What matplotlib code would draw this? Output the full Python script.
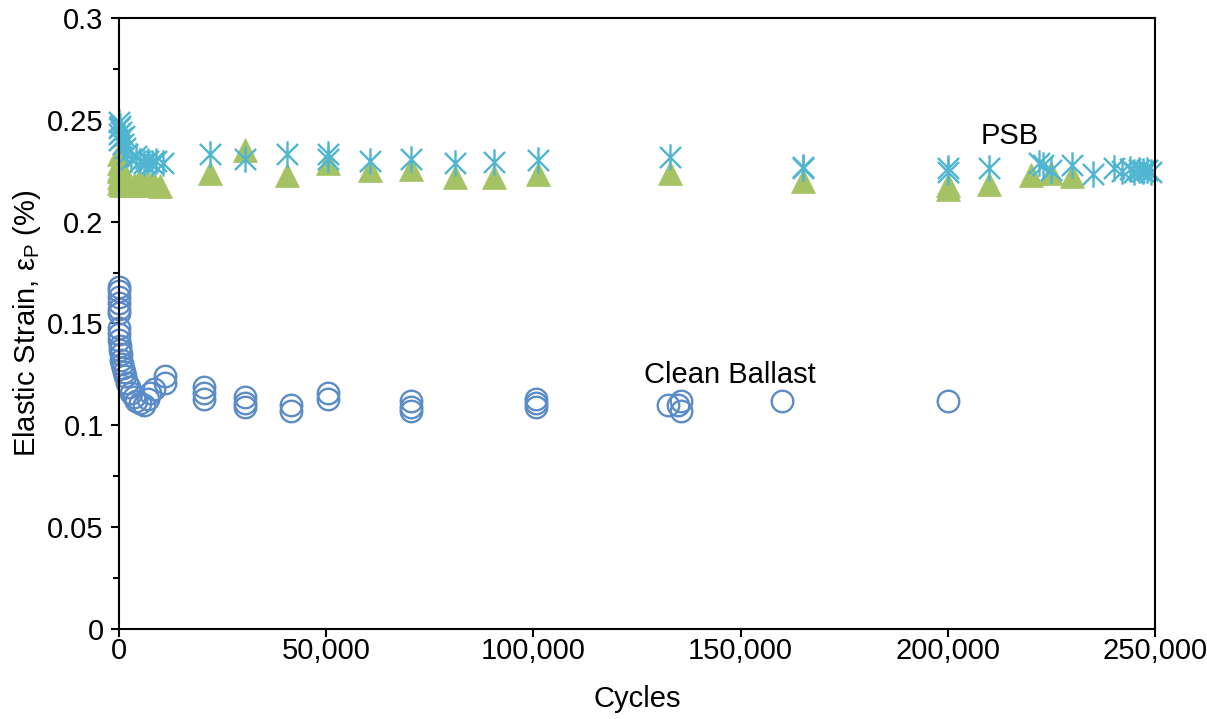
import numpy as np
import matplotlib
matplotlib.use('Agg')
import matplotlib.pyplot as plt
from matplotlib.path import Path
from matplotlib.ticker import MultipleLocator, FuncFormatter

plt.rcParams['font.family'] = ['Liberation Sans', 'DejaVu Sans']

# Clean ballast (open circles)
cb_cycles = [0, 0, 0, 0, 0, 0, 0, 0, 100, 200, 300, 400, 500, 700, 900, 1200,
             1500, 2000, 2500, 3000, 3500, 4000, 5000, 6000, 7000, 7500, 8500,
             11000, 11000,
             20500, 20500, 20500, 30500, 30500, 30500, 41500, 41500,
             50500, 50500, 70500, 70500, 70500, 100500, 100500, 100500,
             132500, 135500, 135500, 135000, 160000, 200000]
cb_strain = [0.168, 0.166, 0.163, 0.160, 0.157, 0.155, 0.148, 0.145, 0.142, 0.139,
             0.137, 0.135, 0.132, 0.130, 0.128, 0.126, 0.124, 0.121, 0.119, 0.116,
             0.114, 0.112, 0.111, 0.110, 0.113, 0.116, 0.118,
             0.124, 0.121,
             0.119, 0.116, 0.113, 0.114, 0.111, 0.109, 0.110, 0.107,
             0.116, 0.113, 0.112, 0.109, 0.107, 0.113, 0.111, 0.109,
             0.110, 0.112, 0.107, 0.110, 0.112, 0.112]

# PSB, triangles
tri_cycles = [0, 0, 0, 0, 0, 100, 300, 500, 800, 1200, 1800, 2500, 3500, 4500,
              5500, 6500, 7500, 8500, 10000,
              22000, 30500, 40500, 50500, 60500, 70500, 81000, 90500, 101000,
              133000, 165000, 200000, 200000, 210000, 220000, 225000, 230000]
tri_strain = [0.233, 0.229, 0.226, 0.222, 0.219, 0.225, 0.221, 0.218, 0.220, 0.219,
              0.218, 0.219, 0.218, 0.219, 0.218, 0.219, 0.218, 0.2185, 0.2175,
              0.224, 0.235, 0.223, 0.229, 0.2255, 0.226, 0.222, 0.222, 0.2235,
              0.224, 0.220, 0.216, 0.218, 0.2185, 0.223, 0.224, 0.2225]

# PSB, asterisks
star_cycles = [0, 0, 0, 0, 200, 400, 600, 900, 1200, 1500, 2000, 3000, 4000,
               5000, 6000, 7000, 8000, 9000, 10500,
               22000, 30500, 40500, 50500, 50500, 60500, 70500, 81000, 90500, 101000,
               133000, 165000, 165000, 200000, 200000, 210000, 222000, 223000,
               225000, 230000, 235000, 240000, 242000, 244000, 245000, 246000,
               247000, 248000, 249000]
star_strain = [0.249, 0.246, 0.243, 0.240, 0.247, 0.244, 0.241, 0.238, 0.242, 0.236,
               0.233, 0.231, 0.232, 0.230, 0.229, 0.230, 0.229, 0.230, 0.229,
               0.233, 0.231, 0.233, 0.233, 0.231, 0.230, 0.231, 0.229, 0.2295, 0.2305,
               0.2315, 0.227, 0.2265, 0.2265, 0.2245, 0.2265, 0.229, 0.228,
               0.2255, 0.228, 0.2235, 0.2265, 0.225, 0.226, 0.2245, 0.2255,
               0.225, 0.2255, 0.2245]

# excel style asterisk: X with a vertical bar
star = Path([(-1, -1), (1, 1), (-1, 1), (1, -1), (0, -1.25), (0, 1.25)],
            [Path.MOVETO, Path.LINETO, Path.MOVETO, Path.LINETO, Path.MOVETO, Path.LINETO])

fig = plt.figure(figsize=(12.07, 7.19), dpi=100)
ax = fig.add_axes([0.0986, 0.1252, 0.8584, 0.8498])

ax.plot(cb_cycles, cb_strain, ls='none', marker='o', ms=15.5, mfc='none',
        mec='#5b8cc7', mew=1.7, clip_on=False)
ax.plot(tri_cycles, tri_strain, ls='none', marker='^', ms=17, mfc='#a5c364',
        mec='#a5c364', mew=0.5, clip_on=False)
ax.plot(star_cycles, star_strain, ls='none', marker=star, ms=19, mfc='none',
        mec='#4fb5d0', mew=1.7, clip_on=False)

ax.set_xlim(0, 250000)
ax.set_ylim(0, 0.3)
ax.xaxis.set_major_locator(MultipleLocator(50000))
ax.xaxis.set_major_formatter(FuncFormatter(lambda v, p: f'{int(v):,}'))
ax.yaxis.set_major_locator(MultipleLocator(0.05))
ax.yaxis.set_minor_locator(MultipleLocator(0.025))
ax.yaxis.set_major_formatter(FuncFormatter(lambda v, p: f'{v:g}'))

for s in ax.spines.values():
    s.set_linewidth(1.5)
ax.tick_params(which='major', length=6, width=1.5, labelsize=21, direction='out')
ax.tick_params(which='minor', length=4, width=1.5, direction='out')
ax.tick_params(axis='x', pad=0)
ax.tick_params(axis='y', pad=5)

ax.set_xlabel('Cycles', fontsize=21, labelpad=14)
ax.set_ylabel(r'Elastic Strain, ε$_\mathregular{P}$ (%)', fontsize=21, labelpad=3)

ax.text(147400, 0.1245, 'Clean Ballast', fontsize=21, ha='center', va='center')
ax.text(215000, 0.242, 'PSB', fontsize=21, ha='center', va='center')

fig.savefig('out.png', dpi=100)
